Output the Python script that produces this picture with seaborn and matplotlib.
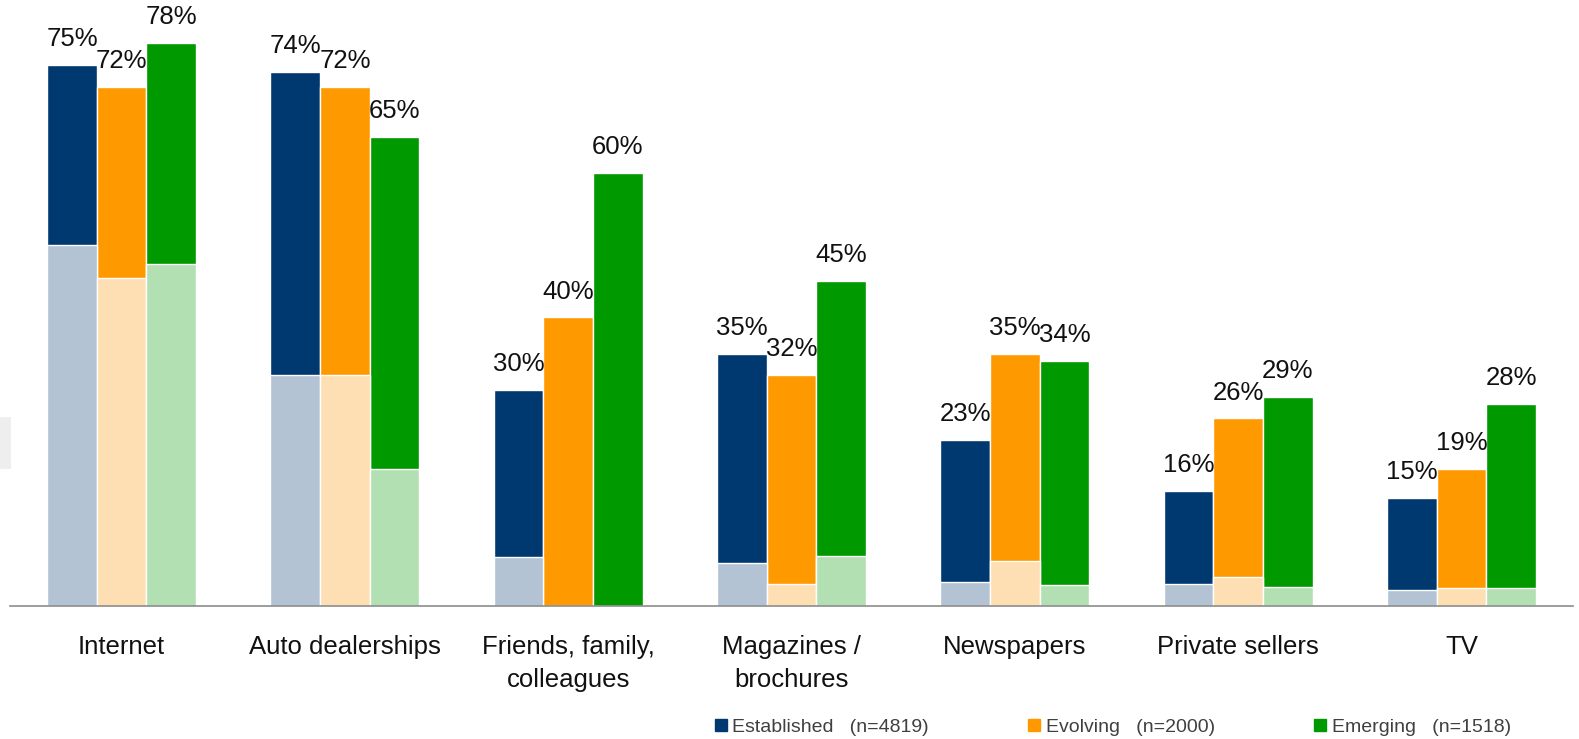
import matplotlib
matplotlib.use("Agg")
import matplotlib.pyplot as plt
from matplotlib.lines import Line2D
from matplotlib.patches import Rectangle
import pandas as pd
import seaborn as sns

# Information sources used when buying a car, by market segment (% of respondents)
channels = ["Internet", "Auto dealerships", "Friends, family,\ncolleagues",
            "Magazines /\nbrochures", "Newspapers", "Private sellers", "TV"]
segments = ["Established", "Evolving", "Emerging"]
segment_labels = ["Established   (n=4819)", "Evolving   (n=2000)", "Emerging   (n=1518)"]

# Total share per channel
established = [75, 74, 30, 35, 23, 16, 15]
evolving = [72, 72, 40, 32, 35, 26, 19]
emerging = [78, 65, 60, 45, 34, 29, 28]

# Lower (lighter) portion of each bar
established_low = [50, 32, 6.8, 6.0, 3.3, 3.0, 2.2]
evolving_low = [45.5, 32, 0, 3.0, 6.2, 4.0, 2.5]
emerging_low = [47.4, 19, 0, 7.0, 2.9, 2.6, 2.5]

main_colors = ["#003870", "#FF9900", "#009900"]
light_colors = ["#B3C3D4", "#FEDFB3", "#B3E0B3"]


def long_frame(series):
    rows = []
    for seg, vals in zip(segments, series):
        for ch, v in zip(channels, vals):
            rows.append({"channel": ch, "segment": seg, "value": v})
    return pd.DataFrame(rows)


df_total = long_frame([established, evolving, emerging])
df_low = long_frame([established_low, evolving_low, emerging_low])

sns.set_theme(style="white")
plt.rcParams["font.family"] = ["Liberation Sans", "DejaVu Sans"]

fig = plt.figure(figsize=(15.79, 7.39), dpi=100)
W, H = 1579, 739
ax = fig.add_axes([10 / W, (H - 606) / H, 1563 / W, 606 / H])

sns.barplot(data=df_total, x="channel", y="value", hue="segment",
            order=channels, hue_order=segments, palette=main_colors,
            saturation=1, width=0.667, edgecolor="white", linewidth=1,
            errorbar=None, legend=False, ax=ax)
n_main = len(ax.containers)
sns.barplot(data=df_low, x="channel", y="value", hue="segment",
            order=channels, hue_order=segments, palette=light_colors,
            saturation=1, width=0.667, edgecolor="white", linewidth=1,
            errorbar=None, legend=False, ax=ax)

for cont, vals in zip(ax.containers[:n_main], [established, evolving, emerging]):
    ax.bar_label(cont, labels=[f"{v}%" for v in vals], padding=10,
                 fontsize=18.5, color="#111111")

ax.set_xlim(-0.5, 6.5)
ax.set_ylim(0, 84)
ax.set_xlabel("")
ax.set_ylabel("")
ax.set_yticks([])
ax.tick_params(axis="x", length=0, pad=21, labelsize=18.5, labelcolor="#111111")
for lbl in ax.get_xticklabels():
    lbl.set_linespacing(1.45)
for side in ["top", "left", "right"]:
    ax.spines[side].set_visible(False)
ax.spines["bottom"].set_color("#8C8C8C")
ax.spines["bottom"].set_linewidth(1.2)

# Small grey tab at the left edge
fig.add_artist(Rectangle((0, (H - 469) / H), 11 / W, 52 / H,
                         transform=fig.transFigure, facecolor="#EEEEEE",
                         edgecolor="none"))

handles = [Line2D([], [], marker="s", linestyle="none", markersize=8,
                  markerfacecolor=c, markeredgecolor=c) for c in main_colors]
fig.legend(handles, segment_labels, loc="center left",
           bbox_to_anchor=(715 / W, (H - 727) / H), ncol=3, frameon=False,
           fontsize=14, labelcolor="#404040", handlelength=0.6,
           handletextpad=0.3, columnspacing=5.1, borderaxespad=0,
           borderpad=0)

fig.savefig("out.png", dpi=100)
